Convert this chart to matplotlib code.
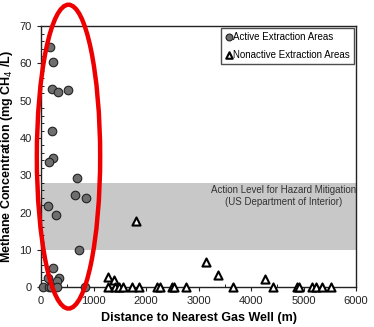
import matplotlib
matplotlib.use("Agg")
import matplotlib.pyplot as plt
from matplotlib.patches import Ellipse
from matplotlib.ticker import MultipleLocator

plt.rcParams['font.family'] = ['Liberation Sans', 'DejaVu Sans']

active_x = [171, 235, 216, 330, 521, 216, 235, 159, 679, 641, 851, 140, 279, 724,
            222, 337, 127, 298, 44, 150, 200, 310, 838]
active_y = [64.5, 60.5, 53.2, 52.3, 53.0, 42.0, 34.6, 33.5, 29.2, 24.7, 24.0, 21.7, 19.3, 10.0,
            5.0, 2.5, 2.5, 1.7, 0, 0, 0, 0, 0]

nonactive_x = [1803, 3149, 3378, 4267, 1270, 1390,
               1270, 1410, 1492, 1556, 1727, 1867, 2210, 2267, 2502, 2533, 2756, 3663,
               4413, 4870, 4914, 5168, 5238, 5346, 5517]
nonactive_y = [17.6, 6.7, 3.3, 2.2, 2.8, 2.0,
               0, 0, 0, 0, 0, 0, 0, 0, 0, 0, 0, 0,
               0, 0, 0, 0, 0, 0, 0]

band_low, band_high = 10, 28

fig = plt.figure(figsize=(3.74, 3.27), dpi=100)
ax = fig.add_axes([0.1096, 0.122, 0.8424, 0.798])

ax.axhspan(band_low, band_high, color='#c8c8c8', zorder=0, lw=0)
ax.text(4616, 27.4, "Action Level for Hazard Mitigation\n(US Department of Interior)",
        ha='center', va='top', fontsize=7, color='#333333', linespacing=1.3)

ax.scatter(active_x, active_y, s=38, marker='o', facecolor='#6e6e6e', edgecolor='#222222',
           linewidth=0.8, zorder=3, clip_on=False, label='Active Extraction Areas')
ax.scatter(nonactive_x, nonactive_y, s=34, marker='^', facecolor='white', edgecolor='black',
           linewidth=1.5, zorder=3, clip_on=False, label='Nonactive Extraction Areas')

ax.set_xlim(0, 6000)
ax.set_ylim(0, 70)
ax.xaxis.set_major_locator(MultipleLocator(1000))
ax.xaxis.set_minor_locator(MultipleLocator(500))
ax.yaxis.set_major_locator(MultipleLocator(10))
ax.yaxis.set_minor_locator(MultipleLocator(2))
ax.tick_params(axis='both', which='major', labelsize=8, length=3, width=0.8, direction='out', colors='#222222')
ax.tick_params(axis='both', which='minor', length=2, width=0.6, direction='in')
for s in ax.spines.values():
    s.set_linewidth(1.0)
    s.set_color('#222222')

ax.set_xlabel("Distance to Nearest Gas Well (m)", fontsize=9, fontweight='bold', labelpad=4)
ax.set_ylabel("Methane Concentration (mg CH$_4$ /L)", fontsize=9, fontweight='bold', labelpad=3)

leg = ax.legend(loc='upper right', fontsize=7, frameon=True, fancybox=False, handletextpad=0.1,
                handlelength=0.8, borderpad=0.4, labelspacing=0.8, borderaxespad=0.2,
                markerscale=0.8)
leg.get_frame().set_edgecolor('#222222')
leg.get_frame().set_linewidth(1.0)

ell = Ellipse((524, 35), width=1206, height=81.5, fill=False, edgecolor='#ee0000',
              linewidth=3.2, clip_on=False, zorder=5)
ax.add_patch(ell)

fig.savefig("out.png", dpi=100)
